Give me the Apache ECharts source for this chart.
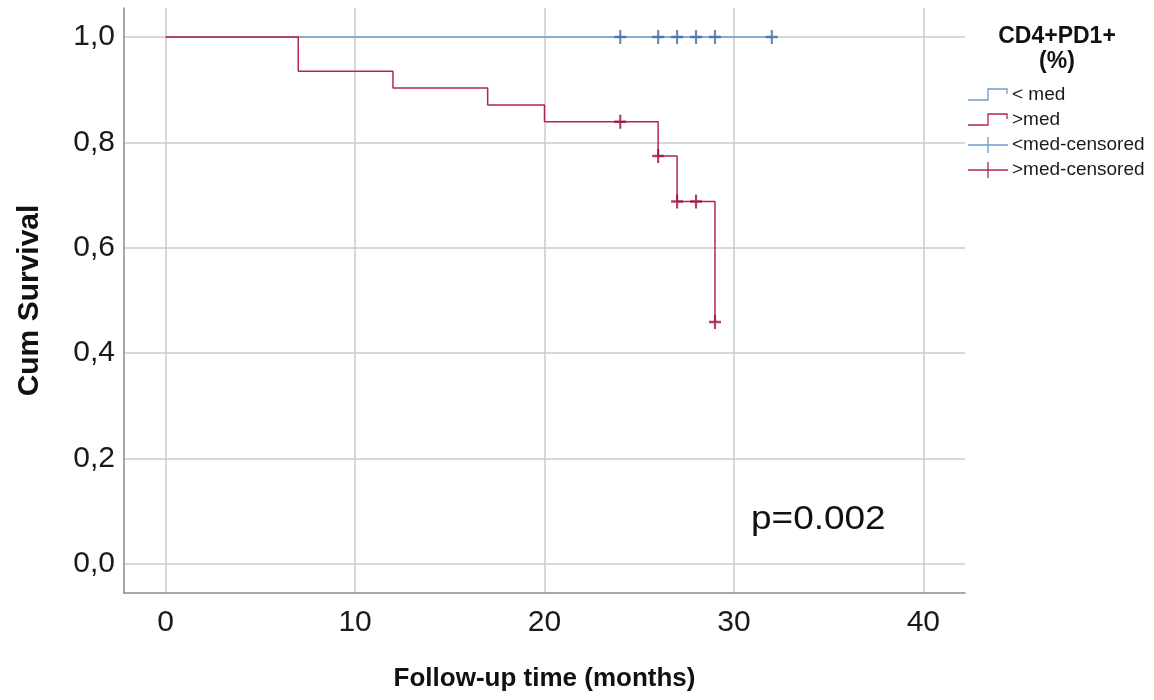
<!DOCTYPE html>
<html>
<head>
<meta charset="utf-8">
<script src="https://cdn.jsdelivr.net/npm/echarts@6/dist/echarts.min.js"></script>
<style>
  html, body { margin: 0; background: #fff; }
  #chart { width: 1154px; height: 700px; }
</style>
</head>
<body>
<div id="chart"></div>
<script>
// tick positions
const xTicks = [0, 10, 20, 30, 40]
const yTicks = [0, 0.2, 0.4, 0.6, 0.8, 1.0]

// < med group (no events)
const lowTimes = [0, 32]
const lowSurv = [1, 1]
const lowCensorTimes = [24, 26, 27, 28, 29, 32]
const lowCensorSurv = [1, 1, 1, 1, 1, 1]

// > med group
const highTimes = [0, 7, 12, 17, 20, 26, 27, 29]
const highSurv = [1, 0.935, 0.903, 0.871, 0.839, 0.774, 0.688, 0.459]
const highCensorTimes = [24, 26, 27, 28, 29]
const highCensorSurv = [0.839, 0.774, 0.688, 0.688, 0.459]

const legendNames = ['< med', '>med', '<med-censored', '>med-censored']

const blue = '#6f9dcb'
const blueDark = '#3e6ea6'
const red = '#b3264f'
const redDark = '#a0103c'
const font = 'Liberation Sans'

const cross = 'path://M4.1,0 H5.9 V4.1 H10 V5.9 H5.9 V10 H4.1 V5.9 H0 V4.1 H4.1 Z'

const zip = (a, b) => a.map((v, i) => [v, b[i]])

// legend block, drawn by hand so the icons look like the SPSS ones
function legendGraphic() {
  const els = [{
    type: 'text',
    x: 1057,
    y: 24,
    style: {
      text: 'CD4+PD1+\n(%)',
      align: 'center',
      fontFamily: font,
      fontWeight: 'bold',
      fontSize: 23,
      lineHeight: 25,
      fill: '#111'
    }
  }]
  const colors = [blue, red, blue, red]
  legendNames.forEach((name, i) => {
    const y = 95 + 25 * i
    if (i < 2) {
      els.push({
        type: 'polyline',
        shape: { points: [[968, y + 5], [988, y + 5], [988, y - 6], [1007, y - 6], [1007, y - 1]] },
        style: { stroke: colors[i], lineWidth: 1.3, fill: null }
      })
    } else {
      els.push({
        type: 'line',
        shape: { x1: 968, y1: y, x2: 1008, y2: y },
        style: { stroke: colors[i], lineWidth: 1.3 }
      })
      els.push({
        type: 'line',
        shape: { x1: 988, y1: y - 8, x2: 988, y2: y + 8 },
        style: { stroke: colors[i], lineWidth: 1.3 }
      })
    }
    els.push({
      type: 'text',
      x: 1012,
      y: y,
      style: { text: name, fontFamily: font, fontSize: 19, verticalAlign: 'middle', fill: '#1a1a1a' }
    })
  })
  return els
}

const chart = echarts.init(document.getElementById('chart'))
const option = {
  animation: false,
  grid: { left: 124, right: 189, top: 8, bottom: 107 },
  xAxis: {
    type: 'value',
    min: -2.2,
    max: 42.2,
    name: 'Follow-up time (months)',
    nameLocation: 'middle',
    nameGap: 73,
    nameTextStyle: { fontFamily: font, fontWeight: 'bold', fontSize: 26, color: '#111' },
    axisLine: { show: true, onZero: false, lineStyle: { color: '#8a8a8a', width: 1.5 } },
    axisTick: { show: false, customValues: xTicks },
    axisLabel: { customValues: xTicks, fontFamily: font, fontSize: 30, color: '#1a1a1a', margin: 15 },
    splitLine: { show: true, lineStyle: { color: '#cbcbcb', width: 1.5 } }
  },
  yAxis: {
    type: 'value',
    min: -0.055,
    max: 1.055,
    name: 'Cum Survival',
    nameLocation: 'middle',
    nameGap: 79,
    nameTextStyle: { fontFamily: font, fontWeight: 'bold', fontSize: 30, color: '#111' },
    axisLine: { show: true, onZero: false, lineStyle: { color: '#8a8a8a', width: 1.5 } },
    axisTick: { show: false, customValues: yTicks },
    axisLabel: {
      customValues: yTicks,
      fontFamily: font,
      fontSize: 30,
      color: '#1a1a1a',
      margin: 9,
      formatter: v => v.toFixed(1).replace('.', ',')
    },
    splitLine: { show: true, lineStyle: { color: '#cbcbcb', width: 1.5 } }
  },
  graphic: [
    ...legendGraphic(),
    {
      type: 'text',
      x: 751,
      y: 520,
      scaleX: 1.12,
      style: { text: 'p=0.002', fontFamily: font, fontSize: 33, verticalAlign: 'middle', fill: '#111' }
    }
  ],
  series: [
    {
      name: legendNames[0],
      type: 'line',
      step: 'end',
      symbol: 'none',
      color: blue,
      lineStyle: { color: blue, width: 1.5 },
      data: zip(lowTimes, lowSurv),
      z: 2
    },
    {
      name: legendNames[1],
      type: 'line',
      step: 'end',
      symbol: 'none',
      color: red,
      lineStyle: { color: red, width: 1.5 },
      data: zip(highTimes, highSurv),
      z: 3
    },
    {
      name: legendNames[2],
      type: 'scatter',
      symbol: cross,
      symbolSize: [12, 14],
      itemStyle: { color: blueDark },
      data: zip(lowCensorTimes, lowCensorSurv),
      z: 4
    },
    {
      name: legendNames[3],
      type: 'scatter',
      symbol: cross,
      symbolSize: [12, 14],
      itemStyle: { color: redDark },
      data: zip(highCensorTimes, highCensorSurv),
      z: 5
    }
  ]
}
chart.setOption(option)
</script>
</body>
</html>
